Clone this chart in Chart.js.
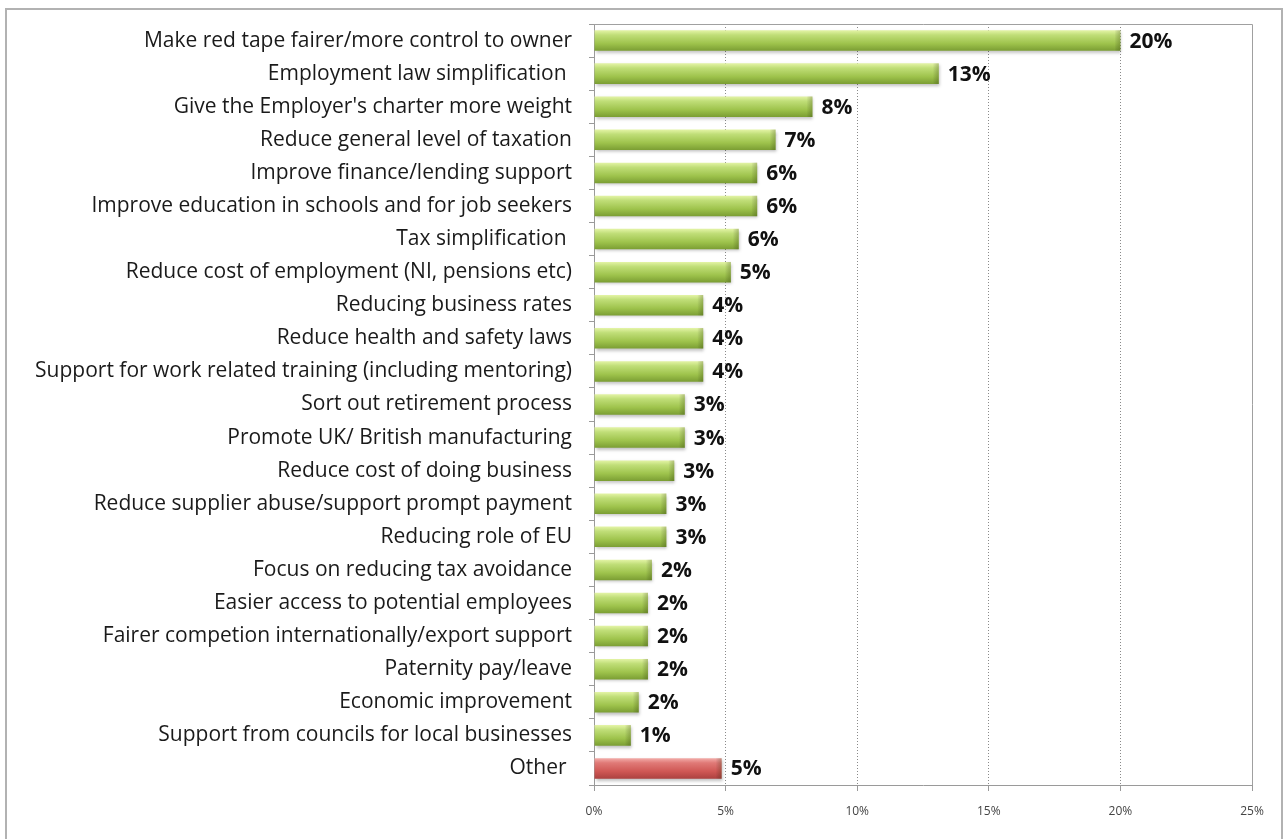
<!DOCTYPE html>
<html>
<head>
<meta charset="utf-8">
<script src="https://cdn.jsdelivr.net/npm/chart.js@4/dist/chart.umd.min.js"></script>
<style>
  html, body { margin: 0; padding: 0; background: #fff; }
  #wrap { position: relative; width: 1284px; height: 839px; }
</style>
</head>
<body>
<div id="wrap"><canvas id="chartPriorities"></canvas></div>
<script>
const categories = [
  "Make red tape fairer/more control to owner",
  "Employment law simplification ",
  "Give the Employer's charter more weight",
  "Reduce general level of taxation",
  "Improve finance/lending support",
  "Improve education in schools and for job seekers",
  "Tax simplification ",
  "Reduce cost of employment (NI, pensions etc)",
  "Reducing business rates",
  "Reduce health and safety laws",
  "Support for work related training (including mentoring)",
  "Sort out retirement process",
  "Promote UK/ British manufacturing",
  "Reduce cost of doing business",
  "Reduce supplier abuse/support prompt payment",
  "Reducing role of EU",
  "Focus on reducing tax avoidance",
  "Easier access to potential employees",
  "Fairer competion internationally/export support",
  "Paternity pay/leave",
  "Economic improvement",
  "Support from councils for local businesses",
  "Other "
];
// share of responses, %
const shares = [20.0, 13.1, 8.3, 6.9, 6.2, 6.2, 5.5, 5.2, 4.15, 4.15, 4.15, 3.45, 3.45, 3.05, 2.75, 2.75, 2.2, 2.05, 2.05, 2.05, 1.7, 1.4, 4.85];
const xTicks = [0, 5, 10, 15, 20, 25];

const labelFont = "'Open Sans', Lato, sans-serif";
const isOther = (i) => categories[i].trim() === "Other";

const barFill = (context) => {
  const chart = context.chart;
  const yScale = chart.scales && chart.scales.y;
  const other = isOther(context.dataIndex);
  const flat = other ? "#cf5754" : "#9ec34c";
  if (!chart.chartArea || !yScale) return flat;
  const cy = yScale.getPixelForValue(context.dataIndex);
  const g = chart.ctx.createLinearGradient(0, cy - 10, 0, cy + 10);
  if (other) {
    g.addColorStop(0, "#f2aaa7");
    g.addColorStop(0.22, "#e07a77");
    g.addColorStop(0.65, "#cf5754");
    g.addColorStop(1, "#ad4240");
  } else {
    g.addColorStop(0, "#e2f3a4");
    g.addColorStop(0.22, "#c0de78");
    g.addColorStop(0.65, "#9ec34c");
    g.addColorStop(1, "#7c9f34");
  }
  return g;
};

// frame round the whole chart plus box round the plot area
const framePlugin = {
  id: "frame",
  beforeDraw(chart) {
    const ctx = chart.ctx;
    ctx.save();
    ctx.strokeStyle = "#b2b2b2";
    ctx.lineWidth = 2;
    ctx.strokeRect(6, 9, chart.width - 8, chart.height + 20);
    ctx.restore();
  },
  afterDraw(chart) {
    const a = chart.chartArea;
    const ctx = chart.ctx;
    ctx.save();
    ctx.strokeStyle = "#a0a0a0";
    ctx.lineWidth = 1;
    ctx.beginPath();
    ctx.moveTo(a.left, a.top + 0.5);
    ctx.lineTo(a.right + 0.5, a.top + 0.5);
    ctx.lineTo(a.right + 0.5, a.bottom);
    ctx.stroke();
    ctx.restore();
  }
};

// soft drop shadow under the bars
const shadowPlugin = {
  id: "barShadow",
  beforeDatasetDraw(chart) {
    const ctx = chart.ctx;
    ctx.save();
    ctx.shadowColor = "rgba(0,0,0,0.25)";
    ctx.shadowBlur = 3;
    ctx.shadowOffsetX = 1;
    ctx.shadowOffsetY = 2;
  },
  afterDatasetDraw(chart) {
    chart.ctx.restore();
  }
};

// darker bevel at the end of each bar and the value label after it
const valuePlugin = {
  id: "values",
  afterDatasetsDraw(chart) {
    const ctx = chart.ctx;
    const meta = chart.getDatasetMeta(0);
    ctx.save();
    meta.data.forEach((bar, i) => {
      const h = bar.height;
      const top = bar.y - h / 2;
      const g = ctx.createLinearGradient(bar.x - 6, 0, bar.x, 0);
      g.addColorStop(0, "rgba(0,0,0,0)");
      g.addColorStop(1, "rgba(40,50,0,0.25)");
      ctx.fillStyle = g;
      ctx.fillRect(bar.x - 6, top, 6, h);

      ctx.fillStyle = "#111";
      ctx.font = "bold 21px " + labelFont;
      ctx.textAlign = "left";
      ctx.textBaseline = "middle";
      ctx.fillText(Math.round(shares[i]) + "%", bar.x + 9, bar.y + 1);
    });
    ctx.restore();
  }
};

const ctx = document.getElementById("chartPriorities").getContext("2d");
new Chart(ctx, {
  type: "bar",
  data: {
    labels: categories,
    datasets: [{
      data: shares,
      backgroundColor: barFill,
      borderWidth: 0,
      categoryPercentage: 1,
      barPercentage: 0.62
    }]
  },
  options: {
    indexAxis: "y",
    responsive: true,
    maintainAspectRatio: false,
    animation: false,
    layout: { padding: { top: 24, right: 32, left: 0, bottom: 0 } },
    plugins: {
      legend: { display: false },
      tooltip: { enabled: false }
    },
    scales: {
      x: {
        min: 0,
        max: 25,
        afterBuildTicks: (scale) => { scale.ticks = xTicks.map(v => ({ value: v })); },
        afterFit: (scale) => { scale.height = 54; },
        border: { color: "#9a9a9a", width: 1, dash: [1, 2] },
        grid: {
          color: (c) => (c.tick && (c.tick.value === 0 || c.tick.value === 25)) ? "rgba(0,0,0,0)" : "#8a8a8a",
          tickColor: "#9a9a9a",
          tickLength: 6
        },
        ticks: {
          padding: 13,
          color: "#444",
          font: { family: labelFont, size: 12 },
          callback: (v) => v + "%"
        }
      },
      y: {
        afterFit: (scale) => {
          scale.width = 594;
          scale.paddingTop = 0;
          scale.paddingBottom = 0;
        },
        border: { color: "#9a9a9a", width: 1 },
        grid: {
          drawOnChartArea: false,
          tickColor: "#9a9a9a",
          tickLength: 5
        },
        ticks: {
          padding: 17,
          color: "#1a1a1a",
          autoSkip: false,
          font: { family: labelFont, size: 21 }
        }
      }
    }
  },
  plugins: [framePlugin, shadowPlugin, valuePlugin]
});
</script>
</body>
</html>
